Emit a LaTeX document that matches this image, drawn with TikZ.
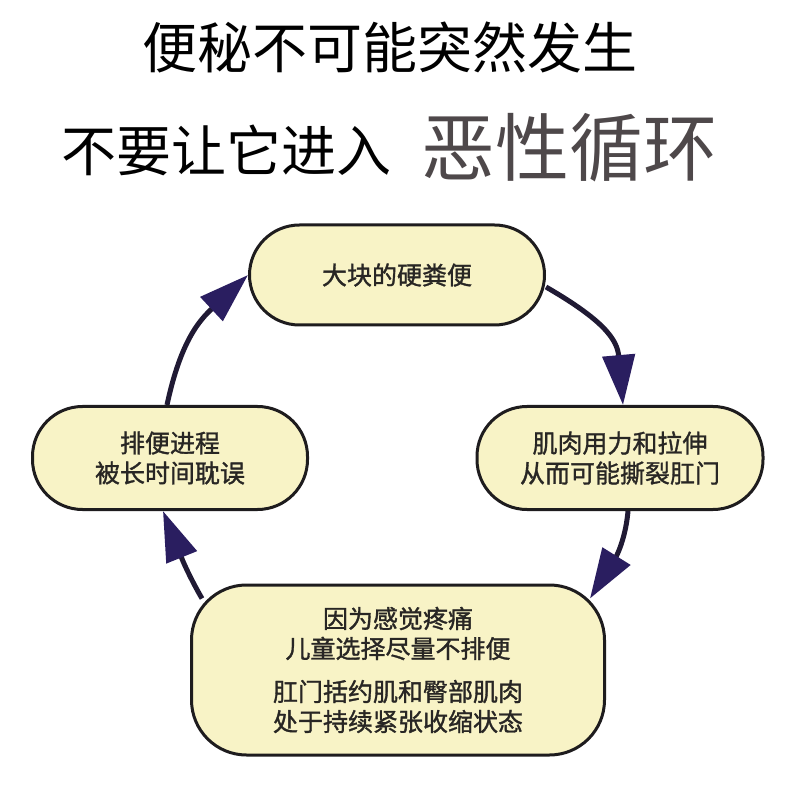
\documentclass[tikz,border=0pt]{standalone}
\usepackage{fontspec}
\newfontfamily\cjk{Noto Sans CJK SC}
\newfontfamily\cjkb{Noto Sans CJK SC}[FakeBold=1.3]
\usetikzlibrary{arrows.meta,calc,backgrounds}
\definecolor{boxfill}{RGB}{248,243,198}
\definecolor{boxline}{RGB}{30,28,30}
\definecolor{arrowline}{RGB}{32,26,52}
\definecolor{arrowhead}{RGB}{42,30,96}
\definecolor{txt}{RGB}{40,38,36}
\definecolor{hot}{RGB}{78,72,74}
\begin{document}
\begin{tikzpicture}[x=1pt,y=1pt,
  cycbox/.style={draw=boxline, line width=3pt, fill=boxfill, rounded corners=50pt,
    align=center, text=txt, font=\cjkb\fontsize{25}{30}\selectfont, inner sep=0pt},
  flow/.style={draw=arrowline, line width=5pt,
    -{Triangle[length=50pt,width=32pt,color=arrowhead]}},
  title/.style={font=\cjk\fontsize{55}{60}\selectfont, text=black, inner sep=0pt}]
\useasboundingbox (0,0) rectangle (800,796);
% titles
\node[title] (t1) at (390,749) {便秘不可能突然发生};
\node[title] (t2) at (226,646) {不要让它进入};
\node[title, font=\cjk\fontsize{74}{80}\selectfont, text=hot] (t3) at (569,648) {恶性循环};
% boxes
\node[cycbox, minimum width=295pt, minimum height=100pt] (top) at (397,521) {大块的硬粪便};
\node[cycbox, minimum width=286pt, minimum height=103pt] (right) at (620,338) {肌肉用力和拉伸\\从而可能撕裂肛门};
\node[cycbox, minimum width=275pt, minimum height=103pt] (left) at (170,338) {排便进程\\被长时间耽误};
\node[cycbox, rounded corners=55pt, minimum width=413pt, minimum height=170pt] (bottom) at (398,126)
  {因为感觉疼痛\\儿童选择尽量不排便\\[13pt]肛门括约肌和臀部肌肉\\处于持续紧张收缩状态};
% arrows
\begin{scope}[on background layer]
\fill[white] (0,0) rectangle (800,796);
\draw[flow] ([yshift=-12pt]top.east) to[out=-30,in=95,looseness=1.2] ([xshift=3pt]right.north);
\draw[flow] ([xshift=8pt]right.south) to[out=-95,in=58] ($(bottom.north east)+(-16,-15)$);
\draw[flow] ($(bottom.north west)+(12,-15)$) to[out=120,in=-68] ([xshift=-7pt]left.south);
\draw[flow] ([xshift=-3pt]left.north) to[out=78,in=-137,looseness=1.1] (top.west);
\end{scope}
\end{tikzpicture}
\end{document}
